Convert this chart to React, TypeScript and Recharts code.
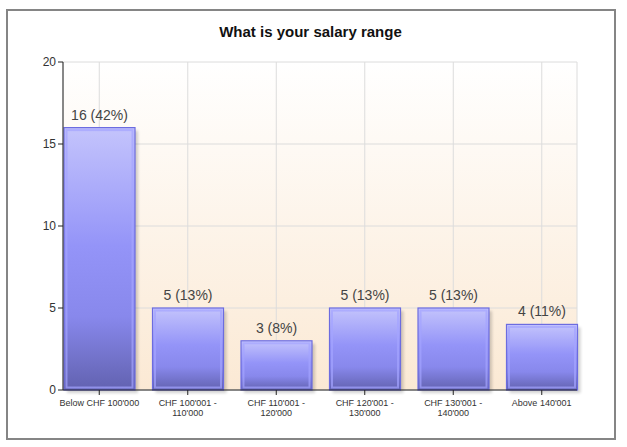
import { BarChart, Bar, XAxis, YAxis, CartesianGrid, LabelList } from "recharts";

// salary survey answers
const categories = [
	"Below CHF 100'000",
	"CHF 100'001 -\n110'000",
	"CHF 110'001 -\n120'000",
	"CHF 120'001 -\n130'000",
	"CHF 130'001 -\n140'000",
	"Above 140'001",
];
const counts = [16, 5, 3, 5, 5, 4];
const percents = [42, 13, 8, 13, 13, 11];
const yTicks = [0, 5, 10, 15, 20];

const data = categories.map((name, i) => ({
	name,
	count: counts[i],
	label: `${counts[i]} (${percents[i]}%)`,
}));

const fontFamily = "'Liberation Sans', Arial, sans-serif";

function CategoryTick(props: any) {
	const { x, y, payload } = props;
	const lines = String(payload.value).split("\n");
	return (
		<g transform={`translate(${x},${y})`}>
			{lines.map((line, i) => (
				<text
					key={i}
					x={0}
					y={9 + i * 10}
					textAnchor="middle"
					fontFamily={fontFamily}
					fontSize={9}
					fill="#333"
				>
					{line}
				</text>
			))}
		</g>
	);
}

function ShadedBar(props: any) {
	const { x, y, width, height } = props;
	if (!height || height <= 0) return null;
	return (
		<g>
			<rect x={x + 3} y={y + 3} width={width} height={height} fill="#000" opacity={0.18} filter="url(#barShadow)" />
			<rect x={x} y={y} width={width} height={height} fill="url(#barFill)" stroke="#6c6ce0" strokeWidth={1.2} />
			<rect
				x={x + 2.5}
				y={y + 2.5}
				width={width - 5}
				height={height - 5}
				fill="none"
				stroke="#a4a4ff"
				strokeWidth={2}
				strokeOpacity={0.7}
			/>
		</g>
	);
}

export default function App() {
	return (
		<div style={{ position: "absolute", left: 0, top: 0, width: 627, height: 447, background: "#fff" }}>
			<div
				style={{
					position: "absolute",
					left: 6,
					top: 9,
					width: 606,
					height: 427,
					border: "2px solid #858585",
				}}
			/>
			<div
				style={{
					position: "absolute",
					left: 7,
					width: 607,
					top: 23,
					textAlign: "center",
					fontFamily,
					fontWeight: "bold",
					fontSize: 15,
					lineHeight: "18px",
					color: "#111",
				}}
			>
				What is your salary range
			</div>
			<div style={{ position: "absolute", left: 0, top: 0 }}>
				<BarChart
					width={627}
					height={447}
					data={data}
					margin={{ top: 62, right: 50, left: 33, bottom: 0 }}
					barSize={71}
				>
					<defs>
						<linearGradient id="bgFill" x1="0" y1="0" x2="0" y2="1">
							<stop offset="0%" stopColor="#ffffff" />
							<stop offset="100%" stopColor="#fbe9d4" />
						</linearGradient>
						<linearGradient id="barFill" x1="0" y1="0" x2="0" y2="1">
							<stop offset="0%" stopColor="#c4c4fc" />
							<stop offset="45%" stopColor="#9494f8" />
							<stop offset="72%" stopColor="#8888ec" />
							<stop offset="100%" stopColor="#6262b0" />
						</linearGradient>
						<filter id="barShadow" x="-10%" y="-10%" width="130%" height="130%">
							<feGaussianBlur stdDeviation="1.5" />
						</filter>
					</defs>
					<CartesianGrid fill="url(#bgFill)" stroke="#dcdcdc" strokeWidth={1} />
					<XAxis
						dataKey="name"
						interval={0}
						height={57}
						padding={{ left: -8, right: -9 }}
						tick={<CategoryTick />}
						tickLine={{ stroke: "#222" }}
						tickSize={5}
						axisLine={{ stroke: "#222" }}
					/>
					<YAxis
						domain={[0, 20]}
						ticks={yTicks}
						width={30}
						tickSize={5}
						tick={{ fontFamily, fontSize: 12, fill: "#333" }}
						tickLine={{ stroke: "#222" }}
						axisLine={{ stroke: "#222" }}
					/>
					<Bar dataKey="count" shape={<ShadedBar />} isAnimationActive={false}>
						<LabelList
							dataKey="label"
							position="top"
							offset={8}
							style={{ fontFamily, fontSize: 14, fill: "#444" }}
						/>
					</Bar>
				</BarChart>
			</div>
		</div>
	);
}
